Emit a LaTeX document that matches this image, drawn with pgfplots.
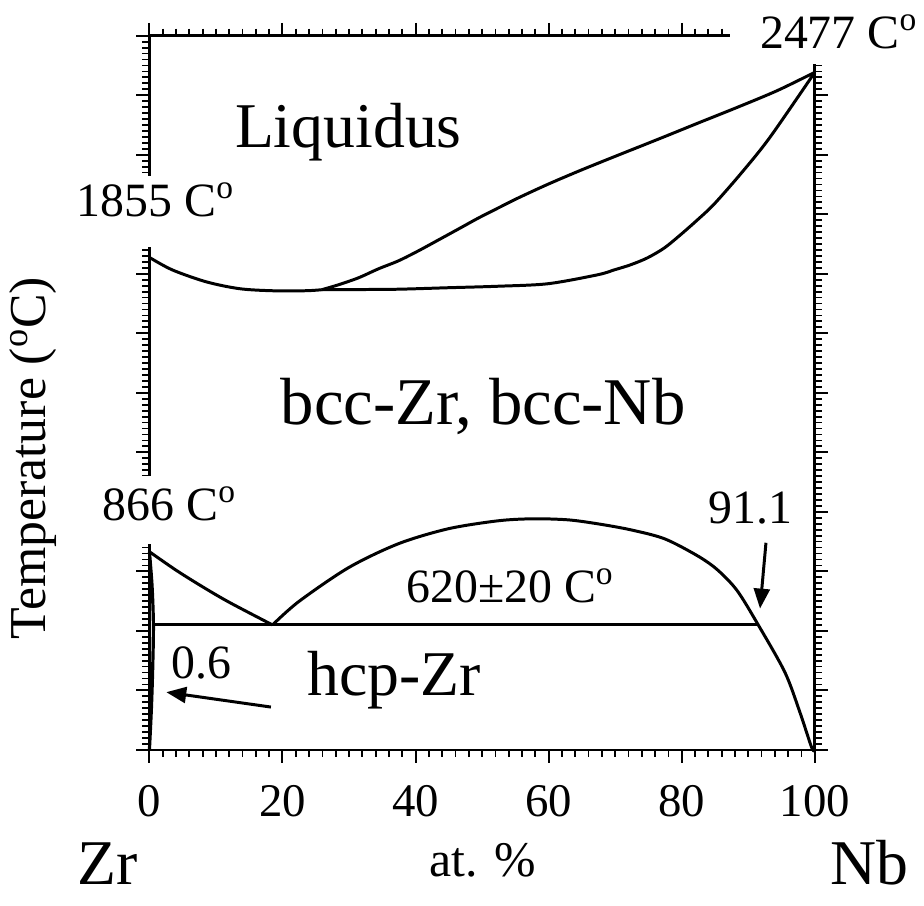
\documentclass[border=0pt]{standalone}
\usepackage{pgfplots}
\pgfplotsset{compat=1.18}
\usepackage{fontspec}
\setmainfont{Liberation Serif}
\usetikzlibrary{arrows.meta}
\newcommand{\dg}{\textsuperscript{o}}
\begin{document}
\begin{tikzpicture}
\begin{axis}[
  at={(0,0)}, anchor=south west,
  width=334pt, height=358.5pt, scale only axis,
  xmin=0, xmax=100, ymin=200, ymax=2600,
  xtick={0,20,...,100}, ytick={200,400,...,2600}, yticklabels={},
  minor x tick num=9, minor y tick num=9,
  tick align=outside, major tick length=6.5pt, minor tick length=3.5pt,
  axis line style={line width=1.4pt},
  major tick style={black, line width=1pt},
  minor tick style={black, line width=0.9pt},
  xticklabel style={font=\fontsize{23.5}{23.5}\selectfont, inner sep=0pt, anchor=north, yshift=-11pt},
  /pgf/number format/assume math mode=true,
  clip=false,
]
% invisible frame fixing the picture's extent
\path (axis cs:-22.455,-322.2) rectangle (axis cs:115.868,2693.7);
% common liquidus/solidus on Zr side
\addplot[black, line width=1.5pt, smooth] coordinates {
 (0,1855) (3.44,1813) (8.53,1773) (13.5,1750) (18.4,1743) (23.5,1743) (25.9,1746.4)};
% liquidus
\addplot[black, line width=1.5pt, smooth] coordinates {
 (25.9,1746.4) (28.44,1763.2) (31.44,1786.6) (34.43,1816.7) (37.43,1843.5)
 (40.42,1877.0) (43.41,1913.3) (46.41,1950.0) (49.40,1986.8) (52.40,2020.9)
 (55.39,2054.4) (59.88,2100.7) (64.82,2147.8) (70.36,2197.8) (76.80,2255.2)
 (82.34,2305.4) (88.32,2359.0) (94.31,2415) (100,2477)};
% solidus
\addplot[black, line width=1.5pt, smooth] coordinates {
 (25.9,1746.4) (31.44,1747) (37.43,1748.1) (44.91,1753.1) (52.40,1758.1)
 (59.88,1766.5) (67.37,1796.6) (69.91,1813.4) (72.31,1830.1) (74.85,1853.5)
 (77.40,1887.0) (79.79,1930.5) (82.34,1980.7) (84.88,2034.3) (89.07,2141.4)
 (93.26,2258.6) (100,2477)};
% bcc/hcp transus Zr side
\addplot[black, line width=1.5pt, smooth] coordinates {
 (0,866) (4,804) (8,748) (12,696) (18.5,620)};
% miscibility gap / Nb solvus
\addplot[black, line width=1.5pt, smooth] coordinates {
 (18.5,620) (22.46,698.7) (29.94,812.6) (37.43,892.9) (44.91,943.1) (52.40,969.9)
 (57.63,976.6) (62.87,973.2) (67.37,959.8) (72.31,939.7) (77.40,909.6)
 (82.34,852.7) (85.33,805.9) (88.32,735.6) (91.5,620) (95.5,461.1)
 (97.75,327.2) (99.55,206.7) (100,200)};
% monotectoid line
\addplot[black, line width=1.5pt] coordinates {(0.6,620) (91.5,620)};
% hcp solvus
\addplot[black, line width=1.6pt, smooth] coordinates {
 (0,866) (0.4,750) (0.6,620) (0.5,480) (0.3,340) (0,200)};
% arrows
\draw[line width=1.5pt, -{Triangle[length=10pt, width=8pt]}] (axis cs:18.26,344) -- (axis cs:2.54,394);
\draw[line width=1.5pt, -{Triangle[length=10pt, width=8pt]}] (axis cs:92.66,896) -- (axis cs:91.77,675);
% labels
\node[anchor=base, font=\fontsize{32}{32}\selectfont] at (axis cs:29.9,2225) {Liquidus};
\node[anchor=base, font=\fontsize{33.5}{33.5}\selectfont] at (axis cs:50.15,1294) {bcc-Zr, bcc-Nb};
\node[anchor=base, font=\fontsize{32}{32}\selectfont] at (axis cs:36.8,384) {hcp-Zr};
\node[anchor=base, font=\fontsize{24}{24}\selectfont] at (axis cs:54.2,695) {620±20 C\dg};
\node[anchor=base, font=\fontsize{24}{24}\selectfont] at (axis cs:90.3,960) {91.1};
\node[anchor=base, font=\fontsize{24}{24}\selectfont] at (axis cs:7.8,441) {0.6};
\node[anchor=base, font=\fontsize{32}{32}\selectfont] at (axis cs:-6.29,-252) {Zr};
\node[anchor=base, font=\fontsize{32}{32}\selectfont] at (axis cs:108.2,-252) {Nb};
\node[anchor=base, font=\fontsize{25}{25}\selectfont] at (axis cs:50.15,-225) {at. \%};
\node[anchor=base, rotate=90, font=\fontsize{26}{26}\selectfont] at (axis cs:-15.57,1181) {Temperature (\dg C)};
\coordinate (wA) at (axis cs:87.3,2505);
\coordinate (wB) at (axis cs:105,2720);
\coordinate (gA1) at (axis cs:-4,1890);
\coordinate (gB1) at (axis cs:0.45,2130);
\coordinate (gA2) at (axis cs:-4,893);
\coordinate (gB2) at (axis cs:0.45,1120);
\coordinate (lab) at (axis cs:103.6,2556);
\coordinate (l1855) at (axis cs:0.9,1991);
\coordinate (l866) at (axis cs:3.0,970);
\end{axis}
\fill[white] (wA) rectangle (wB);
\fill[white] (gA1) rectangle (gB1);
\fill[white] (gA2) rectangle (gB2);
\node[anchor=base, font=\fontsize{24}{24}\selectfont] at (lab) {2477 C\dg};
\node[anchor=base, font=\fontsize{24}{24}\selectfont] at (l1855) {1855 C\dg};
\node[anchor=base, font=\fontsize{24}{24}\selectfont] at (l866) {866 C\dg};
\end{tikzpicture}
\end{document}
